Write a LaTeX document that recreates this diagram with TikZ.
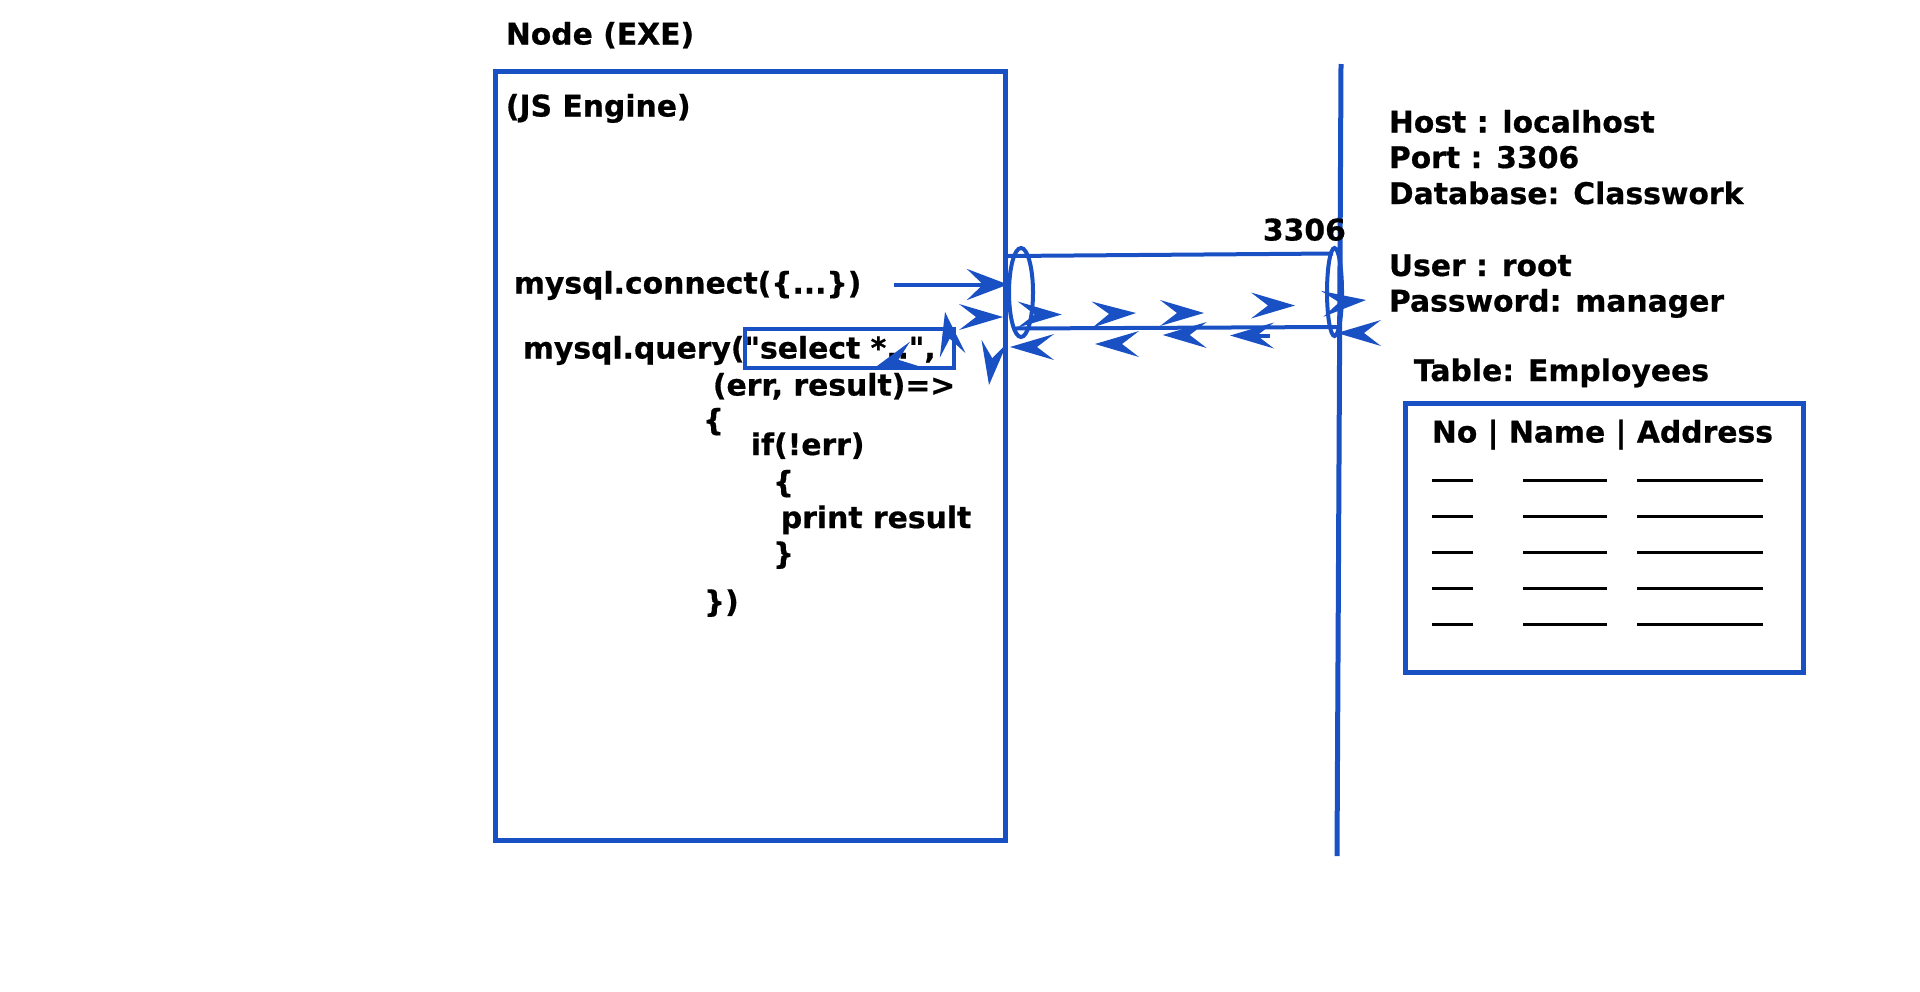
\documentclass[tikz,border=0pt]{standalone}
\usepackage{fontspec}
\setmainfont{DejaVu Sans}[Ligatures=TeXOff,BoldFeatures={FakeBold=0.6}]
\usetikzlibrary{arrows.meta,shapes.geometric}
\definecolor{dblue}{RGB}{25,80,196}
\begin{document}
\begin{tikzpicture}[x=0.5pt,y=-0.5pt,
  txt/.style={anchor=base west,inner sep=0pt,font=\fontsize{14.9pt}{17pt}\selectfont\bfseries},
  bluebox/.style={draw=dblue,line width=2.5pt,inner sep=0pt,anchor=north west},
  bl/.style={draw=dblue,line width=2pt},
  dashln/.style={draw=black,line width=1.4pt},
  chev/.pic={\fill[dblue] (0,0) -- (-44,13) -- (-27,0) -- (-44,-13) -- cycle;}]
\useasboundingbox (0,0) rectangle (1920,991);
% main engine box
\node[bluebox,minimum width=255pt,minimum height=384.5pt] (engine) at (493,68.5) {};
\node[draw=dblue,line width=2pt,inner sep=0pt,anchor=north west,minimum width=104.5pt,minimum height=19.5pt] (sel) at (743,327) {};

% server boundary
\coordinate (vtop) at (1341,64);
\coordinate (vbot) at (1337,856);
\draw[bl,line width=2.5pt] (vtop) -- (vbot);

% pipe
\node[bl,ellipse,inner sep=0pt,minimum width=12pt,minimum height=44.5pt] (lend) at (1021,292.5) {};
\node[bl,ellipse,inner sep=0pt,minimum width=7.5pt,minimum height=44pt] (rend) at (1334.5,292) {};
\coordinate (pt1) at (1008,256);
\coordinate (pt2) at (1333,253.5);
\coordinate (pb1) at (1015,328.5);
\coordinate (pb2) at (1337,327);
\draw[bl] (pt1) -- (pt2);
\draw[bl] (pb1) -- (pb2);

\begin{scope}[shift={(-1.5,-1.5)}]
\node[txt] (title) at (507,46) {Node (EXE)};
\node[txt] (js) at (507,118) {(JS Engine)};
% code
\node[txt] (conn) at (515,295) {mysql.connect(\{...\})};
\node[txt] (query) at (524,360) {mysql.query("select *..",};
\node[txt] (cb) at (714,397) {(err, result)=>};
\node[txt] (b1) at (704,432) {\{};
\node[txt] (iff) at (752,456.5) {if(!err)};
\node[txt] (b2) at (774,494) {\{};
\node[txt] (pr) at (782,529.5) {print result};
\node[txt] (b3) at (774,565.5) {\}};
\node[txt] (b4) at (705,613.5) {\})};
\node[txt] (port) at (1264,242) {3306};
% server info
\node[txt] (host) at (1390,134) {Host : localhost};
\node[txt] (portl) at (1390,169.5) {Port : 3306};
\node[txt] (db) at (1390,205.5) {Database: Classwork};
\node[txt] (user) at (1390,277.5) {User : root};
\node[txt] (pass) at (1390,313) {Password: manager};
\node[txt] (tabt) at (1415,382.5) {Table: Employees};
\node[txt] (hdr) at (1433,444) {No | Name | Address};
\end{scope}

% connect arrow
\coordinate (cs) at (894,284.5);
\draw[bl,-{Stealth[length=20.5pt,width=15.5pt,inset=8pt]}] (cs) -- (engine.east |- cs);

% loose arrowheads
\pic[rotate=0] at (1003,317) {chev};
\pic[rotate=100] at (945,312) {chev};
\pic[rotate=200] at (873,369) {chev};
\pic[rotate=263] at (989,385) {chev};
\pic[rotate=0] at (1061.7,314.5) {chev};
\pic[rotate=2] at (1136,313) {chev};
\pic[rotate=0] at (1204,313) {chev};
\pic[rotate=0] at (1295,305.5) {chev};
\pic[rotate=5] at (1366,300) {chev};
\pic[rotate=180] at (1010,347) {chev};
\pic[rotate=180] at (1095,344) {chev};
\pic[rotate=180] at (1162.7,335) {chev};
\coordinate (stubA) at (1240,335.5);
\coordinate (stubB) at (1270,335.5);
\draw[bl] (stubA) -- (stubB);
\pic[rotate=180] at (1230,335.5) {chev};
\pic[rotate=180] at (1337,333) {chev};

% table
\node[bluebox,minimum width=198.75pt,minimum height=134.6pt] (table) at (1403,400.5) {};
\foreach \yy in {480,516,552,588,624}{
  \draw[dashln] (1432,\yy+0.5) -- (1473,\yy+0.5);
  \draw[dashln] (1523,\yy+0.5) -- (1607,\yy+0.5);
  \draw[dashln] (1637,\yy+0.5) -- (1763,\yy+0.5);
}
\end{tikzpicture}
\end{document}
